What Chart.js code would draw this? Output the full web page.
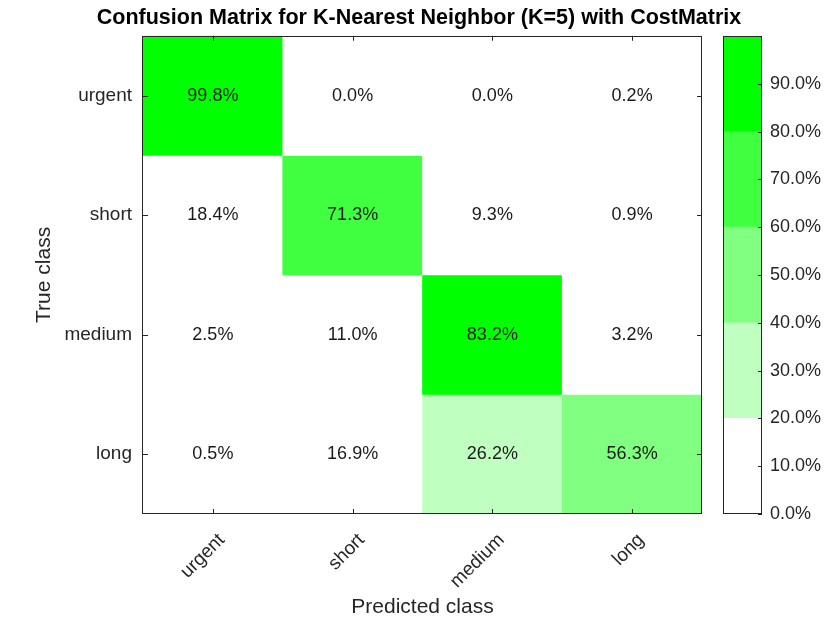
<!doctype html>
<html lang="en">
  <head>
    <meta charset="utf-8">
    <script src="https://cdn.jsdelivr.net/npm/chart.js"></script>
    <title>Confusion Matrix</title>
    <style>
      body { margin: 0; background: #fff; }
      #wrap { position: relative; width: 838px; height: 620px; }
      #cm { position: absolute; left: 0; top: 0; }
      #bar { position: absolute; left: 700px; top: 0; }
    </style>
  </head>
  <body>
   <div id="wrap">
     <canvas id="cm" width="838" height="620"></canvas>
     <canvas id="bar" width="138" height="620"></canvas>
   </div>

   <script>
    // ---- data ----
    const predictedClasses = ['urgent', 'short', 'medium', 'long'];
    const trueClasses = ['urgent', 'short', 'medium', 'long'];
    // one row per true class, percentages per predicted class
    const urgentRow = [99.8, 0.0, 0.0, 0.2];
    const shortRow = [18.4, 71.3, 9.3, 0.9];
    const mediumRow = [2.5, 11.0, 83.2, 3.2];
    const longRow = [0.5, 16.9, 26.2, 56.3];
    const rows = [urgentRow, shortRow, mediumRow, longRow];

    // colorbar bands (0-20, 20-40, ...)
    const bandEdges = [0, 20, 40, 60, 80, 100];
    const bandColors = ['#FFFFFF', '#BFFFBF', '#80FF80', '#40FF40', '#00FF00'];
    const colorbarTicks = [0, 10, 20, 30, 40, 50, 60, 70, 80, 90];

    const fontFam = "'Liberation Sans', Arial, Helvetica, sans-serif";
    const axisColor = '#262626';

    function colorFor(v) {
      for (let i = bandColors.length - 1; i >= 0; i--) {
        if (v >= bandEdges[i]) return bandColors[i];
      }
      return bandColors[0];
    }

    //---------------------- main matrix -------------------------
    const cellText = {
      id: 'cellText',
      afterDatasetsDraw(chart) {
        const ctx = chart.ctx;
        ctx.save();
        ctx.font = '18px ' + fontFam;
        ctx.fillStyle = '#1a1a1a';
        ctx.textAlign = 'center';
        ctx.textBaseline = 'middle';
        rows.forEach((row, i) => {
          const meta = chart.getDatasetMeta(i);
          meta.data.forEach((bar, j) => {
            ctx.fillText(row[j].toFixed(1) + '%', bar.x, (bar.y + bar.base) / 2);
          });
        });
        ctx.restore();
      }
    };

    const boxTicks = {
      id: 'boxTicks',
      afterDraw(chart) {
        const {ctx, chartArea: a, scales: {x, y}} = chart;
        ctx.save();
        ctx.strokeStyle = axisColor;
        ctx.lineWidth = 1;
        ctx.beginPath();
        x.ticks.forEach((t, i) => {
          const px = Math.round(x.getPixelForTick(i)) + 0.5;
          ctx.moveTo(px, a.bottom); ctx.lineTo(px, a.bottom - 5);
          ctx.moveTo(px, a.top); ctx.lineTo(px, a.top + 5);
        });
        y.ticks.forEach(t => {
          const py = Math.round(y.getPixelForValue(t.value)) + 0.5;
          ctx.moveTo(a.left, py); ctx.lineTo(a.left + 5, py);
          ctx.moveTo(a.right, py); ctx.lineTo(a.right - 5, py);
        });
        ctx.stroke();
        ctx.strokeRect(Math.round(a.left) - 0.5, Math.round(a.top) + 0.5,
          Math.round(a.right - a.left), Math.round(a.bottom - a.top) - 1);
        ctx.restore();
      }
    };

    new Chart(document.getElementById('cm'), {
      type: 'bar',
      data: {
        labels: predictedClasses,
        datasets: rows.map((row, i) => ({
          label: trueClasses[i],
          data: row.map(() => 1),
          backgroundColor: row.map(colorFor),
          borderWidth: 0,
          barPercentage: 1,
          categoryPercentage: 1
        }))
      },
      options: {
        responsive: false,
        animation: false,
        plugins: {
          legend: { display: false },
          tooltip: { enabled: false },
          title: {
            display: true,
            text: 'Confusion Matrix for K-Nearest Neighbor (K=5) with CostMatrix',
            color: '#000',
            font: { family: fontFam, size: 21.5, weight: 'bold' },
            padding: { top: 5, bottom: 5 }
          }
        },
        scales: {
          x: {
            stacked: true,
            grid: { display: false, drawTicks: false },
            border: { display: false },
            ticks: {
              color: axisColor,
              font: { family: fontFam, size: 19 },
              minRotation: 45, maxRotation: 45,
              padding: 15,
              labelOffset: 9
            },
            title: {
              display: true, text: 'Predicted class', color: axisColor,
              font: { family: fontFam, size: 21 }, padding: { top: 0, bottom: 0 }
            },
            afterFit: s => { s.height = 106; }
          },
          y: {
            type: 'linear',
            stacked: true,
            reverse: true,
            min: 0, max: 4,
            grid: { display: false, drawTicks: false },
            border: { display: false },
            afterBuildTicks: s => { s.ticks = trueClasses.map((c, i) => ({ value: i + 0.5 })); },
            ticks: {
              color: axisColor,
              font: { family: fontFam, size: 19 },
              padding: 11,
              callback: v => trueClasses[Math.floor(v)]
            },
            title: {
              display: true, text: 'True class', color: axisColor,
              font: { family: fontFam, size: 21 }, padding: { top: 32, bottom: 0 }
            },
            afterFit: s => { s.width = 143; }
          },
          yR: {
            type: 'linear',
            position: 'right',
            grid: { display: false, drawTicks: false },
            border: { display: false },
            ticks: { display: false },
            afterFit: s => { s.width = 136; }
          }
        }
      },
      plugins: [cellText, boxTicks]
    });

    //---------------------- colorbar -------------------------
    const barBox = {
      id: 'barBox',
      afterDraw(chart) {
        const {ctx, chartArea: a, scales: {y}} = chart;
        ctx.save();
        ctx.strokeStyle = axisColor;
        ctx.lineWidth = 1;
        ctx.beginPath();
        colorbarTicks.forEach(v => {
          const py = Math.round(y.getPixelForValue(v)) + 0.5;
          ctx.moveTo(a.right, py); ctx.lineTo(a.right - 4, py);
        });
        ctx.stroke();
        ctx.strokeRect(Math.round(a.left) + 0.5, Math.round(a.top) + 0.5,
          Math.round(a.right - a.left) - 1, Math.round(a.bottom - a.top) - 1);
        ctx.restore();
      }
    };

    new Chart(document.getElementById('bar'), {
      type: 'bar',
      data: {
        labels: [''],
        datasets: bandColors.map((c, i) => ({
          data: [bandEdges[i + 1] - bandEdges[i]],
          backgroundColor: c,
          borderWidth: 0,
          barPercentage: 1,
          categoryPercentage: 1
        }))
      },
      options: {
        responsive: false,
        animation: false,
        layout: { padding: { left: 23, top: 36, bottom: 106, right: 0 } },
        plugins: { legend: { display: false }, tooltip: { enabled: false } },
        scales: {
          x: { stacked: true, display: false },
          y: {
            stacked: true,
            position: 'right',
            min: 0, max: 100,
            grid: { display: false, drawTicks: false },
            border: { display: false },
            afterBuildTicks: s => { s.ticks = colorbarTicks.map(v => ({ value: v })); },
            ticks: {
              color: axisColor,
              font: { family: fontFam, size: 18 },
              padding: 8,
              callback: v => v.toFixed(1) + '%'
            },
            afterFit: s => { s.width = 76; }
          }
        }
      },
      plugins: [barBox]
    });
   </script>
  </body>
</html>
